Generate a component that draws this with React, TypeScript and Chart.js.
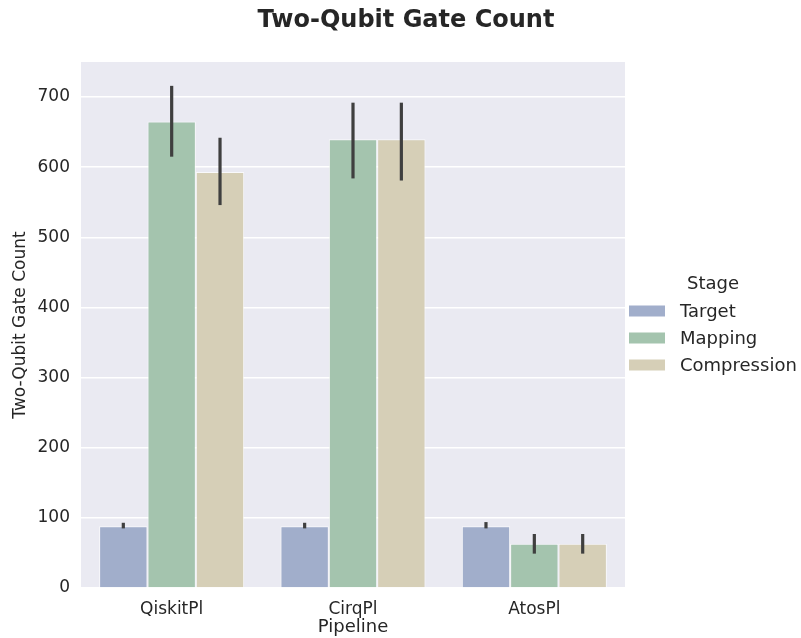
import React, { useEffect, useRef } from "react";
import { Chart, registerables } from "chart.js";

Chart.register(...registerables);

const categories = ["QiskitPl", "CirqPl", "AtosPl"];
const stages = ["Target", "Mapping", "Compression"];
const targetValues = [88, 88, 88];
const mappingValues = [665, 640, 63];
const compressionValues = [593, 640, 63];
const targetLow = [85, 85, 85];
const targetHigh = [93, 93, 94];
const mappingLow = [615, 584, 49];
const mappingHigh = [716, 692, 77];
const compressionLow = [546, 581, 49];
const compressionHigh = [642, 692, 77];
const yTicks = [0, 100, 200, 300, 400, 500, 600, 700];
const titleText = "Two-Qubit Gate Count";
const legendTitle = "Stage";

const colors = ["#a1aecb", "#a4c4ae", "#d6cfb7"];
const FONT = "'DejaVu Sans', sans-serif";
const TEXT = "#262626";

const errLow = [targetLow, mappingLow, compressionLow];
const errHigh = [targetHigh, mappingHigh, compressionHigh];

const bgPlugin = {
  id: "bgPlugin",
  beforeDraw(chart: any) {
    const { ctx, chartArea } = chart;
    ctx.save();
    ctx.fillStyle = "#eaeaf2";
    ctx.fillRect(chartArea.left, chartArea.top, chartArea.right - chartArea.left, chartArea.bottom - chartArea.top);
    ctx.restore();
  },
};

const errPlugin = {
  id: "errPlugin",
  afterDatasetsDraw(chart: any) {
    const { ctx } = chart;
    const yScale = chart.scales.y;
    ctx.save();
    ctx.strokeStyle = "#3f3f3f";
    ctx.lineWidth = 3.2;
    ctx.lineCap = "butt";
    chart.data.datasets.forEach((_ds: any, di: number) => {
      const meta = chart.getDatasetMeta(di);
      meta.data.forEach((bar: any, i: number) => {
        const x = bar.x;
        ctx.beginPath();
        ctx.moveTo(x, yScale.getPixelForValue(errLow[di][i]));
        ctx.lineTo(x, yScale.getPixelForValue(errHigh[di][i]));
        ctx.stroke();
      });
    });
    ctx.restore();
  },
};

const decorPlugin = {
  id: "decorPlugin",
  afterDraw(chart: any) {
    const { ctx, chartArea } = chart;
    ctx.save();
    ctx.fillStyle = TEXT;
    ctx.font = `bold 24px ${FONT}`;
    ctx.textAlign = "center";
    ctx.textBaseline = "middle";
    ctx.fillText(titleText, 406, 21);
    const boxX = chartArea.right + 4;
    ctx.font = `18px ${FONT}`;
    ctx.fillText(legendTitle, 713, 284);
    ctx.textAlign = "left";
    chart.data.datasets.forEach((ds: any, i: number) => {
      const cy = 311 + i * 27;
      ctx.fillStyle = ds.backgroundColor;
      ctx.fillRect(boxX, cy - 5.5, 36, 11);
      ctx.fillStyle = TEXT;
      ctx.fillText(ds.label, 680, cy + 1);
    });
    ctx.restore();
  },
};

export default function App() {
  const ref = useRef<HTMLCanvasElement>(null);
  useEffect(() => {
    if (!ref.current) return;
    const values = [targetValues, mappingValues, compressionValues];
    const chart = new Chart(ref.current, {
      type: "bar",
      data: {
        labels: categories,
        datasets: stages.map((s, i) => ({
          label: s,
          data: values[i],
          backgroundColor: colors[i],
          borderColor: "rgba(255,255,255,0.7)",
          borderWidth: 1,
          categoryPercentage: 0.8,
          barPercentage: 1.0,
        })),
      },
      options: {
        responsive: false,
        animation: false,
        layout: { padding: { left: 6, right: 176, top: 62, bottom: 0 } },
        plugins: {
          title: { display: false },
          legend: { display: false },
          tooltip: { enabled: false },
        },
        scales: {
          x: {
            afterFit: (axis: any) => {
              axis.height = 50;
            },
            grid: { display: false },
            border: { display: false },
            ticks: { font: { family: FONT, size: 17 }, color: TEXT, padding: 3 },
            title: {
              display: true,
              text: "Pipeline",
              font: { family: FONT, size: 18 },
              color: TEXT,
              padding: { top: 0, bottom: 0 },
            },
          },
          y: {
            min: 0,
            max: 750,
            afterBuildTicks: (axis: any) => {
              axis.ticks = yTicks.map((v) => ({ value: v }));
            },
            afterFit: (axis: any) => {
              axis.width = 75;
            },
            grid: { color: "#ffffff", lineWidth: 1.5, drawTicks: false },
            border: { display: false },
            ticks: { font: { family: FONT, size: 17 }, color: TEXT, padding: 11 },
            title: {
              display: true,
              text: "Two-Qubit Gate Count",
              font: { family: FONT, size: 17 },
              color: TEXT,
              padding: { top: 4, bottom: 7 },
            },
          },
        },
      },
      plugins: [bgPlugin, errPlugin, decorPlugin],
    });
    return () => chart.destroy();
  }, []);
  return (
    <div style={{ position: "absolute", left: 0, top: 0, width: 801, height: 638, background: "#fff" }}>
      <canvas ref={ref} width={801} height={638} style={{ display: "block" }} />
    </div>
  );
}
